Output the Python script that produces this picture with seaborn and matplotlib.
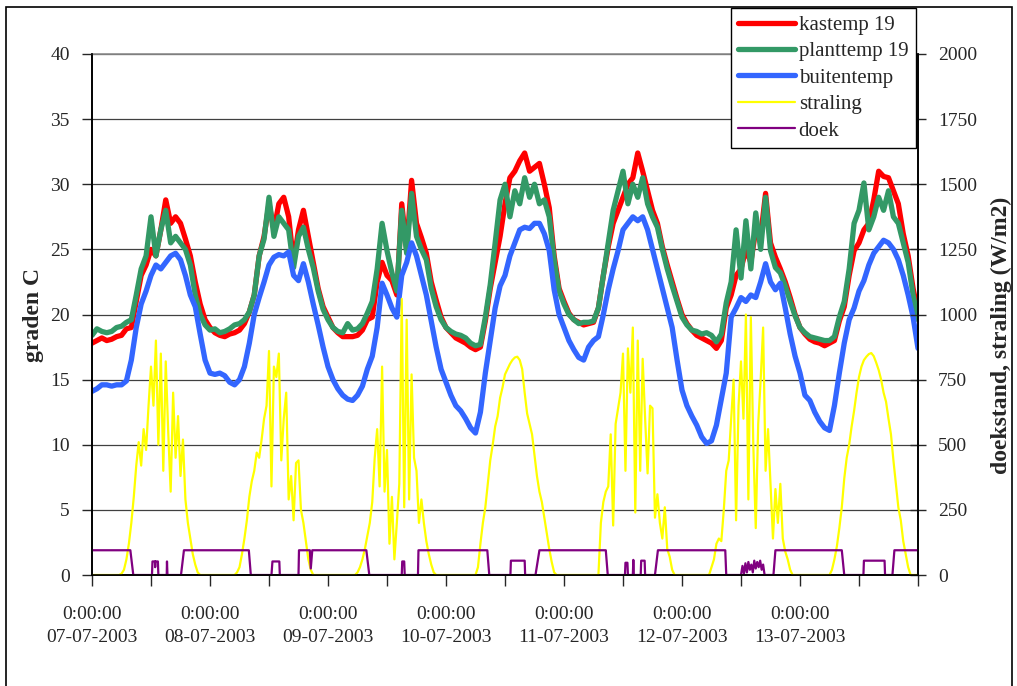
import numpy as np
import pandas as pd
import matplotlib
matplotlib.use("Agg")
import matplotlib.pyplot as plt
import seaborn as sns
from matplotlib.patches import Rectangle

# dagen op de x-as (labels bij 0:00:00)
dagen = ["07-07-2003", "08-07-2003", "09-07-2003", "10-07-2003",
         "11-07-2003", "12-07-2003", "13-07-2003"]

# uurwaarden vanaf 07-07-2003 0:00 (graden C)
kastemp = [
    17.8, 18.0, 18.2, 18.0, 18.1, 18.3, 18.4, 18.9, 19.0, 21.0, 23.0, 23.8, 25.0, 24.5, 26.5, 28.8, 27.0, 27.5, 27.0, 25.8, 24.5, 22.5, 20.8, 19.6, 19.0,
    18.6, 18.4, 18.3, 18.5, 18.6, 18.8, 19.3, 20.2, 21.5, 24.5, 26.0, 28.5, 26.5, 28.5, 29.0, 27.5, 24.0, 26.5, 28.0, 26.0, 24.0, 22.0, 20.6, 19.8,
    19.0, 18.6, 18.3, 18.3, 18.3, 18.4, 18.8, 19.6, 19.8, 22.5, 24.0, 23.0, 22.6, 21.5, 28.5, 25.0, 30.3, 27.0, 25.9, 24.7, 22.5, 21.1, 19.8, 19.0,
    18.6, 18.2, 18.0, 17.8, 17.5, 17.3, 17.5, 19.5, 22.0, 24.0, 26.0, 28.5, 30.5, 31.0, 31.8, 32.4, 31.0, 31.3, 31.6, 30.0, 28.2, 24.5, 22.0, 21.0,
    20.1, 19.6, 19.4, 19.2, 19.3, 19.4, 20.5, 23.0, 25.2, 27.0, 28.0, 29.0, 30.0, 30.5, 32.4, 31.0, 29.5, 28.0, 27.0, 25.2, 23.8, 22.5, 21.2, 20.0,
    19.3, 18.8, 18.4, 18.2, 18.0, 17.8, 17.4, 18.0, 20.5, 21.5, 23.0, 23.5, 25.0, 24.0, 26.5, 26.0, 29.3, 25.5, 24.4, 23.5, 22.5, 21.3, 20.0, 19.0,
    18.5, 18.1, 17.9, 17.8, 17.6, 17.8, 18.0, 19.5, 20.6, 23.0, 24.9, 25.5, 26.5, 27.0, 28.8, 31.0, 30.6, 30.5, 29.5, 28.5, 26.2, 24.5, 22.0, 20.1,
]
planttemp = [
    18.4, 18.9, 18.7, 18.6, 18.7, 19.0, 19.1, 19.4, 19.6, 21.5, 23.5, 24.5, 27.5, 24.5, 26.5, 28.0, 25.5, 26.0, 25.5, 25.0, 23.8, 21.5, 20.0, 19.2, 18.8,
    18.9, 18.6, 18.7, 18.9, 19.2, 19.3, 19.6, 20.2, 21.5, 24.5, 25.8, 29.0, 26.0, 27.5, 27.0, 26.5, 23.6, 26.0, 26.7, 25.0, 23.6, 21.8, 20.4, 19.6,
    19.0, 18.7, 18.6, 19.3, 18.8, 18.9, 19.3, 20.1, 21.0, 23.5, 27.0, 24.9, 23.2, 21.8, 28.0, 24.7, 29.3, 26.0, 25.0, 24.2, 22.0, 20.6, 19.6, 19.0,
    18.7, 18.5, 18.4, 18.2, 17.8, 17.6, 17.7, 19.8, 22.3, 25.5, 28.8, 30.0, 27.5, 29.5, 28.5, 30.5, 29.0, 30.0, 28.5, 28.8, 27.5, 24.2, 21.8, 20.8,
    20.0, 19.6, 19.3, 19.4, 19.4, 19.5, 20.5, 23.0, 25.5, 28.0, 29.5, 31.0, 28.5, 30.0, 29.0, 30.5, 28.5, 27.5, 26.7, 25.0, 23.5, 22.2, 21.0, 19.8,
    19.2, 18.8, 18.7, 18.5, 18.6, 18.4, 17.9, 18.5, 20.9, 22.5, 26.5, 22.8, 27.2, 23.5, 27.8, 25.0, 29.0, 24.9, 23.6, 23.2, 22.2, 21.0, 19.9, 19.0,
    18.6, 18.3, 18.2, 18.1, 18.0, 18.0, 18.3, 19.8, 21.0, 23.5, 27.0, 28.0, 30.1, 26.5, 27.5, 29.0, 28.0, 29.5, 27.5, 27.0, 25.5, 24.0, 21.5, 19.6,
]
buitentemp = [
    14.1, 14.3, 14.6, 14.6, 14.5, 14.6, 14.6, 14.9, 16.5, 19.0, 20.8, 21.8, 23.0, 23.8, 23.5, 24.0, 24.5, 24.7, 24.2, 23.0, 21.5, 20.6, 18.5, 16.5, 15.5,
    15.4, 15.5, 15.3, 14.8, 14.6, 15.0, 16.0, 17.8, 20.0, 21.3, 22.5, 23.8, 24.4, 24.6, 24.5, 24.8, 23.0, 22.6, 23.9, 22.5, 20.8, 19.2, 17.5, 16.0,
    15.0, 14.3, 13.8, 13.5, 13.4, 13.8, 14.5, 15.8, 16.8, 19.0, 22.4, 21.5, 20.5, 19.8, 23.0, 24.0, 25.5, 24.5, 23.0, 21.5, 19.5, 17.5, 15.8, 14.8,
    13.8, 13.0, 12.6, 12.0, 11.3, 10.9, 12.5, 15.5, 18.0, 20.5, 22.2, 23.0, 24.5, 25.5, 26.5, 26.7, 26.6, 27.0, 27.0, 26.2, 24.9, 21.9, 20.0, 19.0,
    18.0, 17.3, 16.7, 16.5, 17.5, 18.0, 18.3, 20.0, 21.9, 23.5, 24.9, 26.5, 27.0, 27.5, 27.2, 27.5, 26.5, 25.0, 23.5, 22.0, 20.5, 19.0, 16.5, 14.2,
    13.0, 12.2, 11.5, 10.6, 10.1, 10.3, 11.5, 13.5, 15.5, 19.8, 20.5, 21.3, 21.0, 21.5, 21.3, 22.5, 23.9, 22.5, 21.9, 22.4, 20.5, 18.5, 16.8, 15.5,
    13.8, 13.4, 12.5, 11.8, 11.3, 11.1, 13.0, 15.5, 17.8, 19.6, 20.5, 21.8, 22.6, 23.8, 24.7, 25.2, 25.7, 25.5, 25.0, 24.2, 23.0, 21.5, 19.8, 17.4,
]

# straling per half uur (W/m2), per dag
straling_0707 = [0] * 12 + [5, 20, 60, 120, 200, 300, 420, 510, 420, 560, 480, 650, 800, 650, 900, 500,
                            850, 400, 820, 550, 320, 700, 450, 610, 380, 520, 290, 200, 140, 80, 40, 10] + [0] * 4
straling_0807 = [0] * 11 + [10, 30, 80, 140, 210, 300, 360, 400, 470, 450, 520, 600, 650, 860, 340, 800,
                            760, 850, 440, 600, 700, 290, 380, 210, 430, 440, 250, 200, 130, 60, 20] + [0] * 6
straling_0907 = [0] * 12 + [10, 30, 60, 100, 150, 200, 280, 450, 560, 340, 800, 320, 480, 120, 300, 60,
                            200, 350, 1060, 260, 980, 290, 770, 450, 400, 200, 290, 200, 130, 80, 40, 10] + [0] * 4
straling_1007 = [0] * 13 + [30, 120, 200, 260, 350, 440, 500, 570, 610, 680, 720, 770, 790, 810, 825, 835,
                            838, 825, 790, 700, 620, 580, 540, 460, 380, 320, 280, 220, 160, 100, 50, 10] + [0] * 3
straling_1107 = [0] * 15 + [200, 280, 320, 340, 540, 190, 580, 640, 700, 850, 400, 870, 700, 950, 240, 900,
                            400, 830, 600, 390, 650, 640, 220, 310, 200, 140, 260, 100, 70, 20] + [0] * 3
straling_1207 = [0] * 12 + [30, 60, 120, 140, 130, 250, 400, 440, 600, 750, 210, 650, 820, 600, 1000, 290,
                            990, 500, 180, 580, 750, 950, 400, 560, 350, 140, 330, 200, 350, 140, 90, 60, 20] + [0] * 3
straling_1307 = [0] * 13 + [20, 60, 110, 180, 260, 370, 450, 500, 570, 630, 700, 760, 800, 825, 838, 848,
                            852, 840, 815, 787, 750, 700, 665, 600, 540, 440, 350, 260, 210, 130, 80, 30] + [0] * 5

# doekstand: tijdstip (uur vanaf 07-07 0:00) en waarde
doek_uur = [0, 7.8, 8.4, 12.2, 12.3, 12.8, 12.85, 12.9, 13.4, 13.5, 15.2, 15.25, 15.35, 18.1, 18.7,
            31.9, 32.3, 36.5, 36.7, 38.1, 38.2, 42.0, 42.1, 44.3, 44.5, 44.8,
            55.8, 56.4, 63.0, 63.1, 63.5, 63.6, 66.3, 66.4,
            80.4, 80.8, 85.1, 85.2, 88.0, 88.1, 90.2, 91.0,
            104.5, 104.9, 108.4, 108.5, 108.9, 109.0, 110.0, 110.1, 110.2, 111.6, 111.7, 112.4, 112.5, 114.5, 115.1,
            128.8, 129.0, 132.0, 132.3, 132.6, 132.9, 133.2, 133.5, 133.8, 134.1, 134.4, 134.7, 135.0, 135.3,
            135.6, 135.9, 136.2, 136.5, 136.8, 138.6, 139.0,
            152.5, 153.0, 156.9, 157.0, 161.2, 161.3, 162.8, 163.2, 168.0]
doek_waarde = [95, 95, 0, 0, 52, 52, 30, 52, 52, 0, 0, 52, 0, 0, 95,
               95, 0, 0, 52, 52, 0, 0, 95, 95, 25, 95,
               95, 0, 0, 52, 52, 0, 0, 95,
               95, 0, 0, 55, 55, 0, 0, 95,
               95, 0, 0, 47, 47, 0, 0, 58, 0, 0, 55, 55, 0, 0, 95,
               95, 0, 0, 35, 5, 45, 10, 50, 20, 40, 10, 55, 25, 50,
               30, 55, 20, 40, 0, 0, 95,
               95, 0, 0, 55, 55, 0, 0, 95, 95]

sns.set_style("white")
plt.rcParams['font.family'] = ['Liberation Serif', 'DejaVu Serif']

df_temp = pd.DataFrame({
    "uur": np.arange(len(kastemp)),
    "kastemp": kastemp,
    "planttemp": planttemp,
    "buitentemp": buitentemp,
})
straling = (straling_0707 + straling_0807 + straling_0907 + straling_1007
            + straling_1107 + straling_1207 + straling_1307)
df_str = pd.DataFrame({"uur": np.arange(len(straling)) * 0.5, "straling": straling})
df_doek = pd.DataFrame({"uur": doek_uur, "doek": doek_waarde})

W, H = 1017, 686
fig = plt.figure(figsize=(W / 100, H / 100), dpi=100)
fig.patch.set_facecolor("white")
ax = fig.add_axes([92 / W, 111 / H, 826 / W, 521 / H])

sns.lineplot(data=df_temp, x="uur", y="kastemp", ax=ax, color="#FF0000",
             linewidth=3.8, label="kastemp 19", legend=False)
sns.lineplot(data=df_temp, x="uur", y="planttemp", ax=ax, color="#339966",
             linewidth=3.8, label="planttemp 19", legend=False)
sns.lineplot(data=df_temp, x="uur", y="buitentemp", ax=ax, color="#3366FF",
             linewidth=3.8, label="buitentemp", legend=False)

ax2 = ax.twinx()
sns.lineplot(data=df_str, x="uur", y="straling", ax=ax2, color="#FFFF00",
             linewidth=1.6, label="straling", legend=False)
sns.lineplot(data=df_doek, x="uur", y="doek", ax=ax2, color="#800080",
             linewidth=1.6, label="doek", legend=False)

# assen
ax.set_xlim(0, 168)
ax.set_ylim(0, 40)
ax2.set_ylim(0, 2000)
ax.set_yticks(np.arange(0, 41, 5))
ax2.set_yticks(np.arange(0, 2001, 250))
xt = np.arange(0, 169, 12)
ax.set_xticks(xt)
ax.set_xticklabels(["0:00:00\n" + dagen[t // 24] if t % 24 == 0 and t // 24 < len(dagen) else ""
                    for t in xt], linespacing=1.5)

ax.grid(axis="y", color="#404040", linewidth=0.9)
ax.set_axisbelow(True)
ax2.grid(False)

for a in (ax, ax2):
    for s in a.spines.values():
        s.set_color("black")
        s.set_linewidth(1.2)
ax.spines["top"].set_color("#8c8c8c")
ax2.spines["top"].set_visible(False)

ax.tick_params(axis="y", direction="out", length=7, width=1, pad=9, labelsize=14, left=True)
ax.tick_params(axis="x", direction="out", length=8, width=1, pad=14, labelsize=14, bottom=True)
ax2.tick_params(axis="y", direction="inout", length=11, width=1, pad=9, labelsize=14, right=True)

ax.set_xlabel("")
ax.set_ylabel("graden C", fontsize=17, fontweight="bold")
ax.yaxis.set_label_coords((44 - 92) / 826, 0.5)
ax2.set_ylabel("doekstand, straling (W/m2)", fontsize=17, fontweight="bold")
ax2.yaxis.set_label_coords((991 - 92) / 826, 0.46)

# legenda
h1, l1 = ax.get_legend_handles_labels()
h2, l2 = ax2.get_legend_handles_labels()
leg = ax2.legend(h1 + h2, l1 + l2, loc="upper left",
                 bbox_to_anchor=(731 / W, 1 - 8 / H), bbox_transform=fig.transFigure,
                 frameon=True, fancybox=False, framealpha=1, edgecolor="black",
                 borderaxespad=0, borderpad=0.35, labelspacing=0.33,
                 handlelength=2.7, handletextpad=0.2, fontsize=15)
leg.get_frame().set_linewidth(1.0)

# kader rond de figuur
fig.patches.append(Rectangle((6 / W, -0.01), (1012 - 6) / W, 1 - 7 / H + 0.01,
                             transform=fig.transFigure, fill=False,
                             edgecolor="black", linewidth=1.2))

fig.savefig("out.png", dpi=100, facecolor="white")
